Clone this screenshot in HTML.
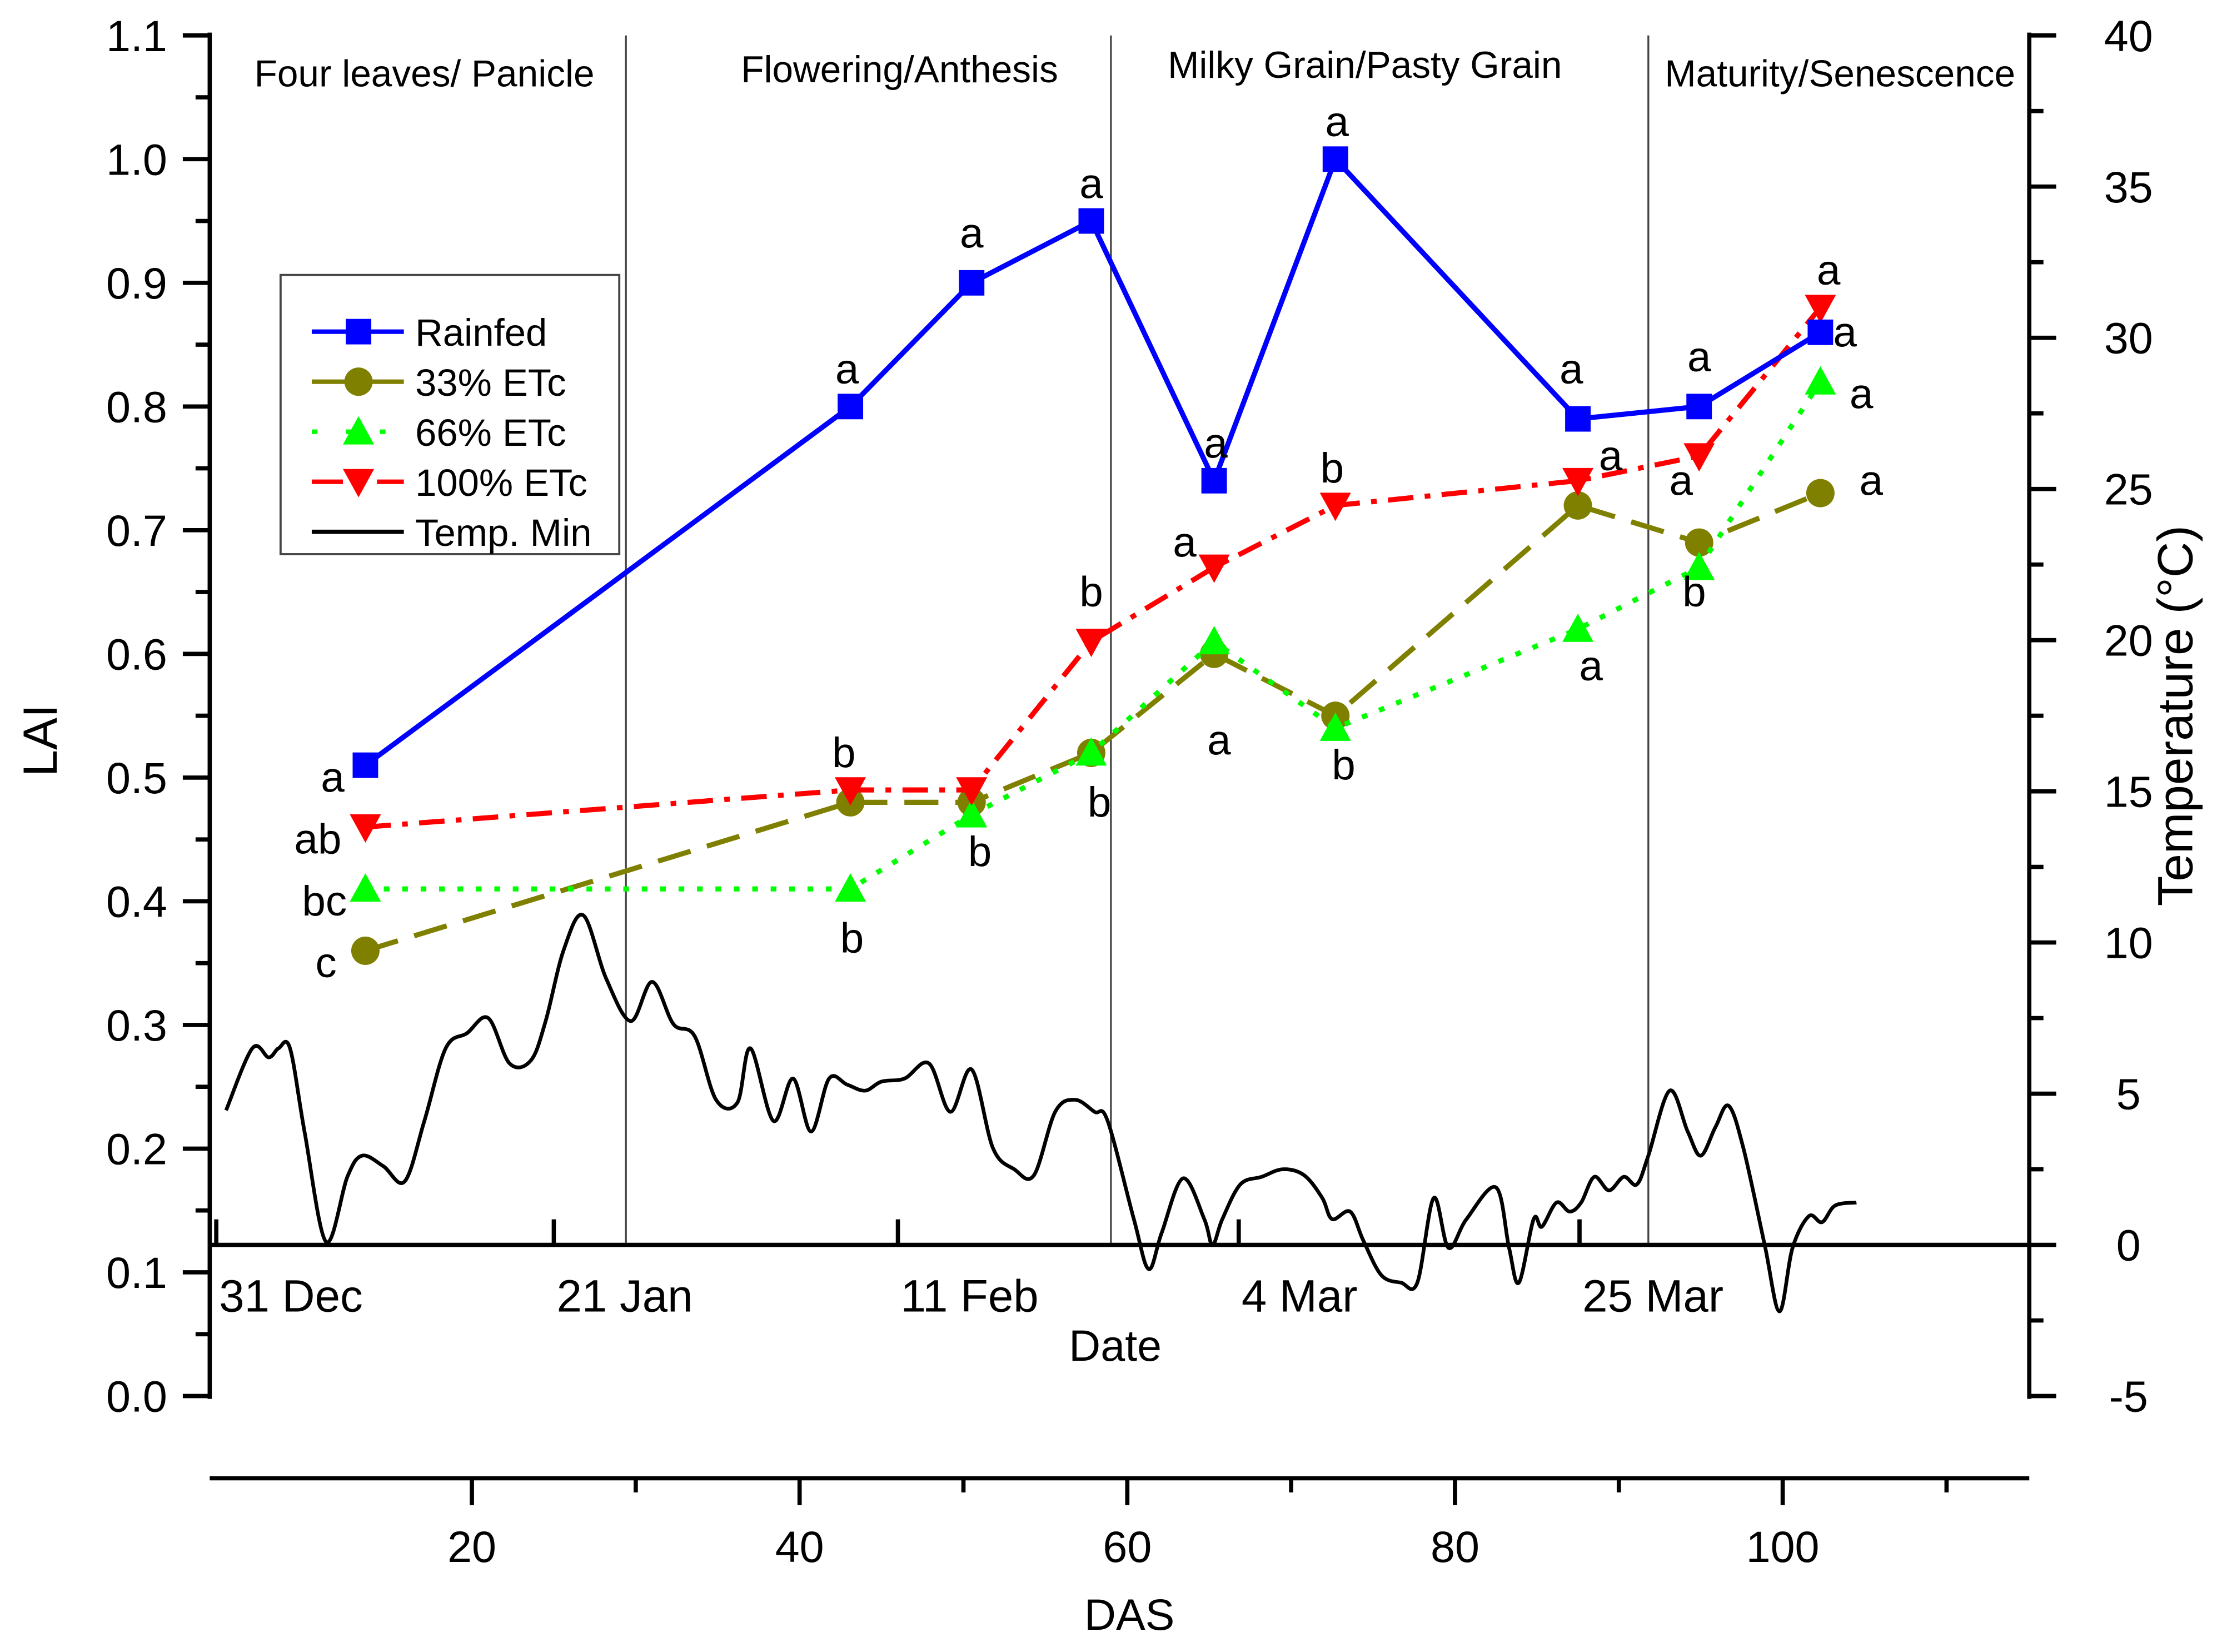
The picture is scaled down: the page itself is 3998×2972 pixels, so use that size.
<!DOCTYPE html>
<html><head><meta charset="utf-8"><style>
html,body{margin:0;padding:0;background:#fff;}
svg{display:block;font-family:"Liberation Sans",Arial,sans-serif;}
</style></head><body>
<svg id="chart" width="3998" height="2972" viewBox="0 0 1568 1165.6" xmlns="http://www.w3.org/2000/svg">
<rect width="1568" height="1165.6" fill="#fff"/>
<g id="g"></g>
</svg>
<script>
// ---- data ----
const das = [13.5, 43.1, 50.5, 57.8, 65.3, 72.7, 87.5, 94.9, 102.3];
const rainfed = [0.51, 0.80, 0.90, 0.95, 0.74, 1.00, 0.79, 0.80, 0.86];
const etc33 = [0.36, 0.48, 0.48, 0.52, 0.60, 0.55, 0.72, 0.69, 0.73];
const etc66 = [0.41, 0.41, 0.47, 0.52, 0.61, 0.54, 0.62, 0.67, 0.82];
const etc100 = [0.46, 0.49, 0.49, 0.61, 0.67, 0.72, 0.74, 0.76, 0.88];
const tempDas = [5.0,6.6,7.6,8.2,8.9,9.8,11.1,12.4,13.3,14.6,15.9,17.1,18.4,19.7,21.0,22.3,23.6,24.5,25.6,26.8,28.2,29.7,31.0,32.3,33.6,34.9,36.2,37.0,38.4,39.6,40.7,41.8,42.9,44.0,45.0,46.4,47.9,49.2,50.5,51.8,53.1,54.3,55.6,56.8,58.0,58.8,60.4,61.3,62.1,63.4,64.7,65.2,65.8,66.9,68.2,69.5,70.8,71.9,72.5,73.6,74.4,75.5,76.7,77.7,78.7,79.6,80.7,82.5,83.3,83.9,84.8,85.3,86.2,87.0,87.7,88.5,89.4,90.3,91.1,91.8,93.1,94.2,95.0,95.9,96.7,97.6,98.9,99.8,100.6,101.6,102.4,103.2,104.5];
const tempMin = [4.45,6.5,6.2,6.5,6.5,3.7,0.1,2.25,2.95,2.6,2.1,4.1,6.5,7.0,7.5,6.0,6.1,7.4,9.75,10.9,8.8,7.4,8.7,7.3,6.9,4.8,4.7,6.5,4.1,5.5,3.75,5.5,5.3,5.1,5.4,5.5,6.0,4.4,5.8,3.2,2.5,2.3,4.4,4.8,4.4,4.1,0.85,-0.8,0.4,2.2,0.85,0,0.85,2.0,2.25,2.5,2.3,1.55,0.85,1.1,0.15,-1.0,-1.25,-1.25,1.55,-0.1,0.85,1.9,-0.1,-1.25,0.85,0.6,1.4,1.1,1.4,2.25,1.8,2.25,2.0,2.95,5.1,3.75,2.95,3.9,4.6,3.2,0,-2.2,-0.1,0.95,0.75,1.3,1.4];
const laiTicks = ["0.0","0.1","0.2","0.3","0.4","0.5","0.6","0.7","0.8","0.9","1.0","1.1"];
const tempTicks = [-5,0,5,10,15,20,25,30,35,40];
const dasTicks = [20,40,60,80,100];
const dateLabels = ["31 Dec","21 Jan","11 Feb","4 Mar","25 Mar"];
const dateDas = [4.4, 25.0, 46.0, 66.8, 87.6];
const phaseDas = [29.4, 59.0, 91.8];
const phaseNames = ["Four leaves/ Panicle","Flowering/Anthesis","Milky Grain/Pasty Grain","Maturity/Senescence"];
const phaseLabelDas = [17.1, 46.1, 74.5, 103.5];
const annText = ["a","ab","bc","c","a","b","b","a","b","a","b","b","a","a","a","a","b","b","a","a","a","a","a","b","a","a","a","a"];
const annDas = [11.5,10.6,11.0,11.1,42.9,42.7,43.2,50.5,51.0,57.8,57.8,58.3,65.4,63.5,65.6,72.8,72.5,73.2,87.1,89.5,88.3,94.9,93.8,94.6,102.8,103.8,104.8,105.4];
const annLai = [0.50,0.45,0.40,0.35,0.83,0.52,0.37,0.94,0.44,0.98,0.65,0.48,0.77,0.69,0.53,1.03,0.75,0.51,0.83,0.76,0.59,0.84,0.74,0.65,0.91,0.86,0.81,0.74];

// ---- axes ----
const X0=148, X1=1432, YT=25, YB=985;
const xS = d => 101.75 + d*11.5625;
const yL = v => YB - v/1.1*(YB-YT);
const yT = t => YB - (t+5)/45*(YB-YT);
const NS="http://www.w3.org/2000/svg";
const g=document.getElementById('g');
function el(tag,attrs,parent){const e=document.createElementNS(NS,tag);for(const k in attrs)e.setAttribute(k,attrs[k]);(parent||g).appendChild(e);return e;}
function txt(s,attrs,parent){const e=el('text',attrs,parent);e.textContent=s;return e;}

// phase lines
phaseDas.forEach(d=>{const l=el('line',{x1:xS(d),x2:xS(d),y1:YT,y2:yT(0),stroke:'#444','stroke-width':1.3});

});
phaseNames.forEach((n,i)=>{const t=txt(n,{x:xS(phaseLabelDas[i]),y:i==2?55:i==1?58:61,'font-size':26.5,'text-anchor':'middle'});

});

// left axis
const la=el('g',{});


el('line',{x1:X0,x2:X0,y1:YT-2,y2:YB+2,stroke:'#000','stroke-width':3},la);
laiTicks.forEach((s,i)=>{const y=yL(i*0.1);el('line',{x1:X0-19,x2:X0,y1:y,y2:y,stroke:'#000','stroke-width':3},la);
if(i<11){const ym=yL(i*0.1+0.05);el('line',{x1:X0-10,x2:X0,y1:ym,y2:ym,stroke:'#000','stroke-width':3},la);}
const t=txt(s,{x:118,y:y+11,'font-size':31,'text-anchor':'end'},la);

});
const lt=txt('LAI',{x:40,y:yL(0.53),'font-size':34,'text-anchor':'middle',transform:`rotate(-90 40 ${yL(0.53)})`});



// right axis
const ra=el('g',{});


el('line',{x1:X1,x2:X1,y1:YT-2,y2:YB+2,stroke:'#000','stroke-width':3},ra);
tempTicks.forEach(t0=>{const y=yT(t0);el('line',{x1:X1,x2:X1+19,y1:y,y2:y,stroke:'#000','stroke-width':3},ra);
if(t0<40){const ym=yT(t0+2.5);el('line',{x1:X1,x2:X1+10,y1:ym,y2:ym,stroke:'#000','stroke-width':3},ra);}
const t=txt(String(t0),{x:1502,y:y+11,'font-size':31,'text-anchor':'middle'},ra);

});
const rt=txt('Temperature (°C)',{x:1547,y:yT(17.5),'font-size':35,'text-anchor':'middle',transform:`rotate(-90 1547 ${yT(17.5)})`});



// date axis at temp 0
const da=el('g',{});


el('line',{x1:X0,x2:X1,y1:yT(0),y2:yT(0),stroke:'#000','stroke-width':3},da);
dateLabels.forEach((s,i)=>{const x=xS(dateDas[i]);el('line',{x1:x,x2:x,y1:yT(0)-18,y2:yT(0),stroke:'#000','stroke-width':3},da);
const t=txt(s,{x:x+2,y:yT(0)+47,'font-size':32},da);

});
const dt=txt('Date',{x:787,y:960,'font-size':31,'text-anchor':'middle'});



// DAS axis
const xa=el('g',{});


el('line',{x1:X0,x2:X1,y1:1043,y2:1043,stroke:'#000','stroke-width':3},xa);
dasTicks.forEach(d=>{const x=xS(d);el('line',{x1:x,x2:x,y1:1043,y2:1062,stroke:'#000','stroke-width':3},xa);
const xm=xS(d+10);if(xm<X1)el('line',{x1:xm,x2:xm,y1:1043,y2:1053,stroke:'#000','stroke-width':3},xa);
const t=txt(String(d),{x:x,y:1102,'font-size':31,'text-anchor':'middle'},xa);

});
const xt=txt('DAS',{x:797,y:1150,'font-size':31,'text-anchor':'middle'});



// temperature curve (catmull-rom)
(function(){const p=tempDas.map((d,i)=>[xS(d),yT(tempMin[i])]);let s=`M${p[0][0]},${p[0][1]}`;
for(let i=0;i<p.length-1;i++){const a=p[i-1]||p[i],b=p[i],c=p[i+1],e=p[i+2]||c;
s+=` C${b[0]+(c[0]-a[0])/6},${b[1]+(c[1]-a[1])/6} ${c[0]-(e[0]-b[0])/6},${c[1]-(e[1]-b[1])/6} ${c[0]},${c[1]}`;}
const l=el('path',{d:s,fill:'none',stroke:'#000','stroke-width':2.6});

})();

function marker(type,x,y,color,parent){
 if(type=='sq')return el('rect',{x:x-9,y:y-9,width:18,height:18,fill:color},parent);
 if(type=='ci')return el('circle',{cx:x,cy:y,r:10,fill:color},parent);
 if(type=='up')return el('path',{d:`M${x},${y-11}L${x+11},${y+9}L${x-11},${y+9}Z`,fill:color},parent);
 return el('path',{d:`M${x-11},${y-9}L${x+11},${y-9}L${x},${y+11}Z`,fill:color},parent);}
const series=[
 {name:'series-33-etc',vals:etc33,color:'#808000',dash:'24 12',m:'ci'},
 {name:'series-66-etc',vals:etc66,color:'#00ff00',dash:'4 9',m:'up'},
 {name:'series-100-etc',vals:etc100,color:'#ff0000',dash:'18 8 4 8',m:'dn'},
 {name:'series-rainfed',vals:rainfed,color:'#0000ff',dash:'',m:'sq'}];
series.forEach(s=>{const sg=el('g',{});


const pts=das.map((d,i)=>xS(d)+','+yL(s.vals[i])).join(' ');
const a={points:pts,fill:'none',stroke:s.color,'stroke-width':3.6};if(s.dash)a['stroke-dasharray']=s.dash;
el('polyline',a,sg);
das.forEach((d,i)=>{const m=marker(s.m,xS(d),yL(s.vals[i]),s.color,sg);

});});

// significance letters
annText.forEach((s,i)=>{const t=txt(s,{x:xS(annDas[i]),y:yL(annLai[i])+10,'font-size':30,'text-anchor':'middle'});

});

// legend
const lg=el('g',{});


el('rect',{x:198,y:194,width:239,height:197,fill:'#fff',stroke:'#444','stroke-width':1.5},lg);
const legNames=['Rainfed','33% ETc','66% ETc','100% ETc','Temp. Min'];
const legSer=[series[3],series[0],series[1],series[2],null];
legNames.forEach((n,i)=>{const y=234+i*35.3;const eg=el('g',{},lg);


const s=legSer[i];
if(s){const a={x1:220,x2:285,y1:y,y2:y,stroke:s.color,'stroke-width':3.2};if(s.dash)a['stroke-dasharray']=s.m=='up'?'4 20':s.m=='dn'?'22 10 4 10':'';el('line',a,eg);marker(s.m,253,y,s.color,eg);}
else el('line',{x1:220,x2:285,y1:y,y2:y,stroke:'#000','stroke-width':3},eg);
txt(n,{x:293,y:y+10,'font-size':27},eg);});
</script>
</body></html>
